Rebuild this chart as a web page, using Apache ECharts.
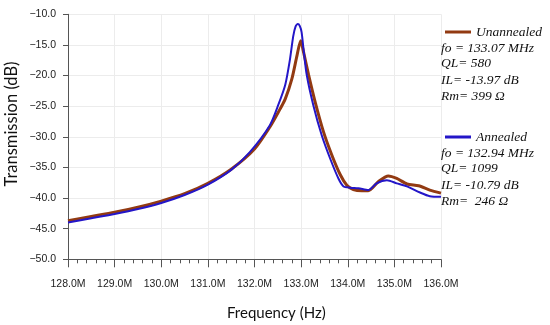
<!DOCTYPE html>
<html>
<head>
<meta charset="utf-8">
<script src="https://cdn.jsdelivr.net/npm/echarts@6/dist/echarts.min.js"></script>
<style>html,body{margin:0;padding:0;background:#fff}#c{width:550px;height:325px}</style>
</head>
<body>
<div id="c"></div>
<script>
var unannealedFreq = [128.0,128.5,129.0,129.5,130.0,130.5,131.0,131.5,132.0,132.33,132.51,132.66,132.8,132.91,132.99,133.05,133.16,133.3,133.48,133.66,133.84,133.98,134.12,134.3,134.44,134.66,134.87,135.05,135.27,135.52,135.76,136.0];
var unannealedDb = [-43.7,-43.0,-42.3,-41.5,-40.5,-39.3,-37.6,-35.3,-32.0,-28.4,-26.0,-23.8,-20.6,-16.8,-14.3,-16.1,-19.9,-24.3,-29.2,-33.0,-36.2,-37.9,-38.6,-38.8,-38.8,-37.3,-36.4,-36.8,-37.7,-38.0,-38.7,-39.2];
var annealedFreq = [128.0,128.5,129.0,129.5,130.0,130.5,131.0,131.5,131.9,132.33,132.51,132.66,132.76,132.83,132.88,132.93,132.97,133.01,133.05,133.12,133.26,133.44,133.62,133.8,133.91,134.05,134.23,134.44,134.62,134.84,135.05,135.27,135.55,135.76,136.0];
var annealedDb = [-44.0,-43.3,-42.6,-41.8,-40.8,-39.5,-37.8,-35.4,-32.5,-28.1,-24.8,-21.5,-17.4,-13.6,-12.0,-11.6,-11.9,-12.9,-15.6,-19.9,-24.8,-29.7,-33.5,-36.8,-38.1,-38.3,-38.4,-38.7,-37.6,-37.1,-37.6,-38.1,-39.1,-39.7,-39.8];
var unannealedNotes = ['fo = 133.07 MHz','QL= 580','IL= -13.97 dB','Rm= 399 Ω'];
var annealedNotes = ['fo = 132.94 MHz','QL= 1099','IL= -10.79 dB','Rm=  246 Ω'];

function pairs(xs, ys){ return xs.map(function(x,i){ return [x, ys[i]]; }); }

var chart = echarts.init(document.getElementById('c'), null, {renderer:'canvas'});
var noteFont = 'italic 13.5px "Liberation Serif", serif';
var graphics = [];
function addNotes(list, ys){
  list.forEach(function(t,i){
    graphics.push({type:'text', x:441, y:ys[i], z:100, style:{text:t, font:noteFont, fill:'#111', textVerticalAlign:'middle', verticalAlign:'middle', align:'left'}});
  });
}
addNotes(unannealedNotes,[48,63.5,80,96.5]);
addNotes(annealedNotes,[153,168.5,185,201.5]);
graphics.push({type:'text', x:227, y:313, style:{text:'Frequency (Hz)', font:'15px Lato, "Open Sans", sans-serif', fill:'#111', verticalAlign:'middle', textVerticalAlign:'middle'}});
graphics.push({type:'text', x:12, y:124, rotation:Math.PI/2, style:{text:'Transmission (dB)', font:'16.5px Lato, "Open Sans", sans-serif', fill:'#111', align:'center', textAlign:'center', verticalAlign:'middle', textVerticalAlign:'middle'}});

var legendText = {fontFamily:'Liberation Serif', fontStyle:'italic', fontSize:13.5, color:'#111'};
chart.setOption({
  animation:false,
  grid:{left:68, right:109, top:14.3, bottom:65.7},
  legend:[
    {data:['Unannealed'], left:445, top:25, padding:0, itemWidth:26, itemHeight:3, icon:'rect', textStyle:legendText},
    {data:['Annealed'], left:445, top:130, padding:0, itemWidth:26, itemHeight:3, icon:'rect', textStyle:legendText}
  ],
  xAxis:{
    type:'value', min:128, max:136, interval:1,
    axisLine:{lineStyle:{color:'#555', width:1}},
    axisTick:{length:8, lineStyle:{color:'#555'}},
    minorTick:{show:true, splitNumber:5, length:4, lineStyle:{color:'#555'}},
    splitLine:{show:true, lineStyle:{color:'#ececec'}},
    axisLabel:{margin:19, formatter:function(v){return v.toFixed(1)+'M';}, fontFamily:'Liberation Sans', fontSize:10.5, color:'#222'}
  },
  yAxis:{
    type:'value', min:-50, max:-10, interval:5,
    axisLine:{show:true, lineStyle:{color:'#555', width:1}},
    axisTick:{show:true, length:5, lineStyle:{color:'#555'}},
    splitLine:{show:true, lineStyle:{color:'#ececec'}},
    axisLabel:{margin:12, formatter:function(v){return v.toFixed(1).replace('-','\u2212');}, fontFamily:'Liberation Sans', fontSize:10.5, color:'#222'}
  },
  graphic:graphics,
  series:[
    {name:'Unannealed', type:'line', data:pairs(unannealedFreq, unannealedDb), smooth:0.25, showSymbol:false, lineStyle:{color:'#923a12', width:3}, itemStyle:{color:'#923a12'}},
    {name:'Annealed', type:'line', data:pairs(annealedFreq, annealedDb), smooth:0.25, showSymbol:false, lineStyle:{color:'#2416c8', width:2}, itemStyle:{color:'#2416c8'}}
  ]
});
</script>
</body>
</html>
